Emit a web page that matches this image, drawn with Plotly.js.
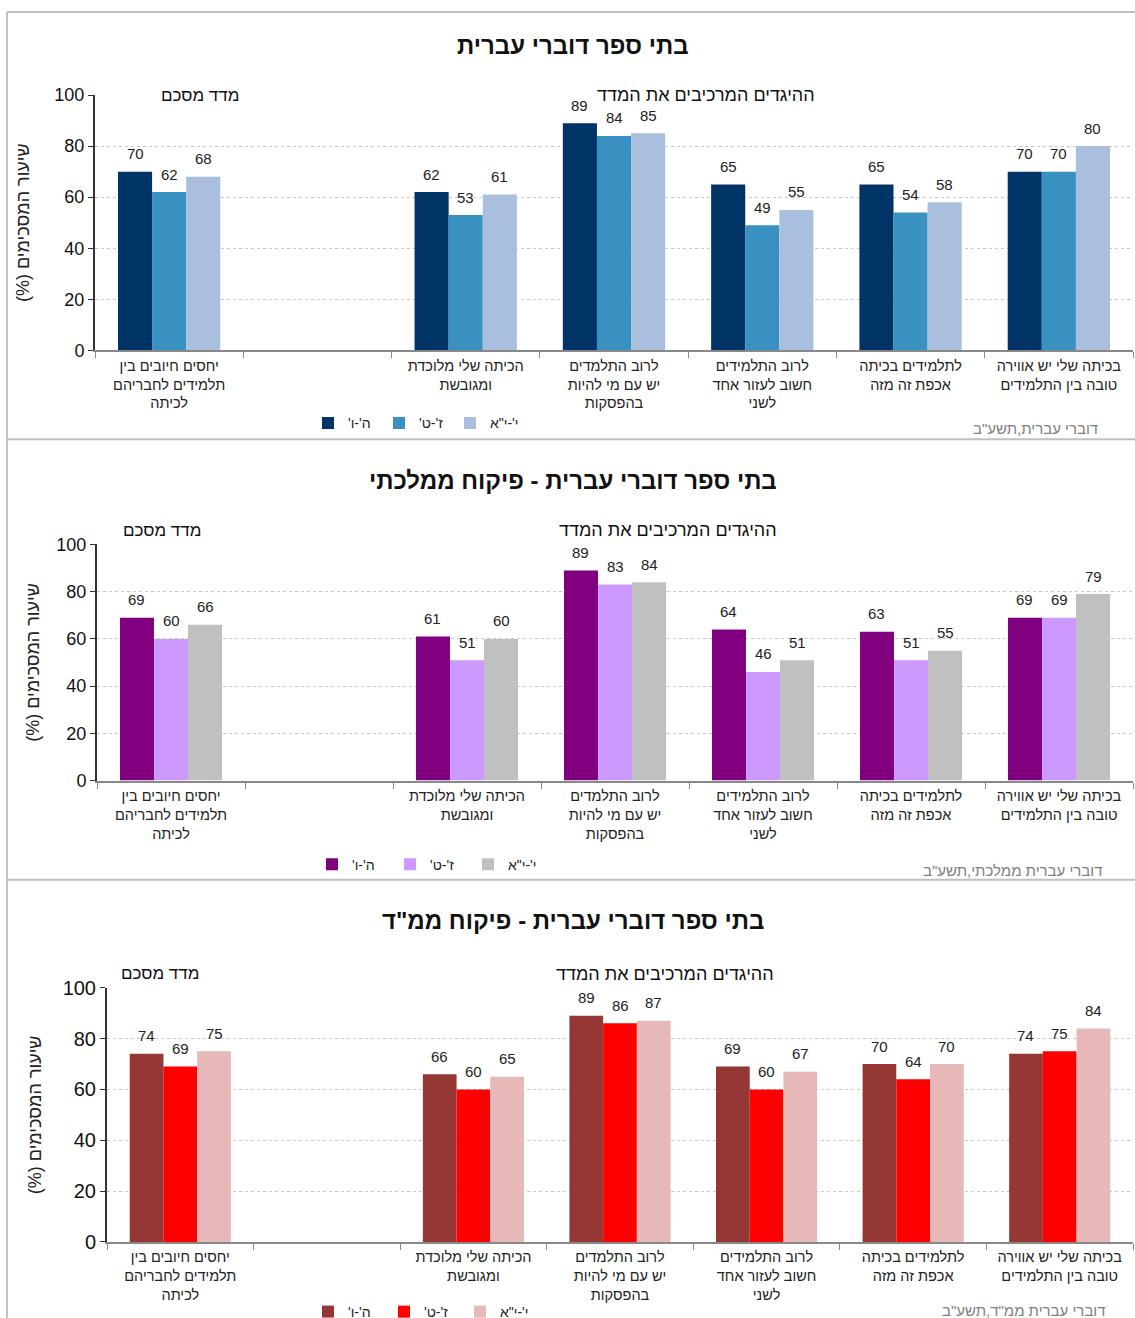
<!DOCTYPE html>
<html>
<head>
<meta charset="utf-8">
<script src="https://cdn.plot.ly/plotly-3.0.1.min.js"></script>
<style>html,body{margin:0;padding:0;background:#fff;overflow:hidden;}#chart{width:1135px;height:1328px;overflow:hidden;}</style>
</head>
<body>
<div id="chart"></div>
<script>
// ---- Data ----
const categories = [
  "יחסים חיובים בין<br>תלמידים לחבריהם<br>לכיתה",
  "הכיתה שלי מלוכדת<br>ומגובשת",
  "לרוב התלמדים<br>יש עם מי להיות<br>בהפסקות",
  "לרוב התלמידים<br>חשוב לעזור אחד<br>לשני",
  "לתלמידים בכיתה<br>אכפת זה מזה",
  "בכיתה שלי יש אווירה<br>טובה בין התלמידים"
];
const gapCategory = " ";
const seriesNames = ["ה'-ו'", "ז'-ט'", "י'-י\"א"];

const panelTitles = [
  "בתי ספר דוברי עברית",
  "בתי ספר דוברי עברית - פיקוח ממלכתי",
  "בתי ספר דוברי עברית - פיקוח ממ\"ד"
];
const sourceNotes = [
  "דוברי עברית,תשע\"ב",
  "דוברי עברית ממלכתי,תשע\"ב",
  "דוברי עברית ממ\"ד,תשע\"ב"
];
const indexLabel = "מדד מסכם";
const itemsLabel = "ההיגדים המרכיבים את המדד";
const yTitle = "שיעור המסכימים (%)";

// Panel 1: all Hebrew-speaking schools
const allG5_6   = [70, 62, 89, 65, 65, 70];
const allG7_9   = [62, 53, 84, 49, 54, 70];
const allG10_11 = [68, 61, 85, 55, 58, 80];
// Panel 2: state supervision
const stateG5_6   = [69, 61, 89, 64, 63, 69];
const stateG7_9   = [60, 51, 83, 46, 51, 69];
const stateG10_11 = [66, 60, 84, 51, 55, 79];
// Panel 3: state-religious supervision
const relG5_6   = [74, 66, 89, 69, 70, 74];
const relG7_9   = [69, 60, 86, 60, 64, 75];
const relG10_11 = [75, 65, 87, 67, 70, 84];

const panelColors = [
  ["#003366", "#3891c1", "#a9bfdd"],
  ["#800080", "#cc99ff", "#c0c0c0"],
  ["#953735", "#ff0000", "#e6b9b8"]
];
const panelData = [
  [allG5_6, allG7_9, allG10_11],
  [stateG5_6, stateG7_9, stateG10_11],
  [relG5_6, relG7_9, relG10_11]
];

// ---- Layout geometry (pixels of the 1135x1318 reference) ----
const W = 1135, H = 1318;
const FIG_H = 1328;
const FONT = "Liberation Sans, Arial, sans-serif";
const RLM = "\u200F";
const BARGAP = 0.31;
const panels = [
  {x0: 95,  top: 95,  bottom: 350,  title: 45,  notes: 95,  idxX: 200, itmX: 706, legX: 308, legY: 423, legW: 26, srcX: 1100, srcY: 428, yTick: 18, standoff: 20},
  {x0: 97,  top: 544, bottom: 780,  title: 480, notes: 530, idxX: 162, itmX: 668, legX: 312, legY: 864, legW: 33, srcX: 1105, srcY: 870, yTick: 18, standoff: 12},
  {x0: 107, top: 987, bottom: 1241, title: 920, notes: 973, idxX: 160, itmX: 665, legX: 308, legY: 1311, legW: 31, srcX: 1108, srcY: 1310, yTick: 20, standoff: 16}
];
const X1 = 1133;
const px = v => v / W;
const py = v => 1 - v / H;

const catOrder = [categories[0], gapCategory].concat(categories.slice(1));

const traces = [];
const layout = {
  width: W, height: FIG_H,
  autosize: false,
  margin: {l: 0, r: 0, t: 0, b: 0, pad: 0},
  paper_bgcolor: "#fff", plot_bgcolor: "#fff",
  font: {family: FONT, color: "#222"},
  barmode: "group",
  bargap: BARGAP,
  bargroupgap: 0,
  annotations: [],
  shapes: []
};

panels.forEach((p, i) => {
  const n = i === 0 ? "" : String(i + 1);
  const legendKey = "legend" + n;
  const catW = (X1 - p.x0) / catOrder.length;
  const barW = catW * (1 - BARGAP) / 3;
  for (let s = 0; s < 3; s++) {
    traces.push({
      type: "bar",
      x: categories,
      y: panelData[i][s],
      name: RLM + seriesNames[s] + RLM,
      xaxis: "x" + n,
      yaxis: "y" + n,
      legend: legendKey,
      marker: {color: panelColors[i][s], line: {width: 0}},
      hoverinfo: "x+y+name"
    });
    // value labels above each bar, positioned through the data axes
    panelData[i][s].forEach((v, k) => {
      layout.annotations.push({
        text: String(v), xref: "x" + n, yref: "y" + n,
        x: categories[k], y: v, xshift: (s - 1) * barW, yshift: 18,
        xanchor: "center", yanchor: "middle", showarrow: false,
        font: {family: FONT, size: 15, color: "#222"}
      });
    });
  }
  layout["xaxis" + n] = {
    domain: [px(p.x0), px(X1)],
    anchor: "y" + n,
    type: "category",
    categoryorder: "array",
    categoryarray: catOrder,
    range: [-0.5, 6.5],
    tickson: "boundaries",
    ticks: "outside",
    ticklen: 6,
    tickcolor: "#888",
    ticklabelstandoff: 1,
    showline: true,
    linecolor: "#888",
    linewidth: 2,
    showgrid: false,
    tickfont: {family: FONT, size: 14.5, color: "#222"},
    automargin: false,
    fixedrange: true
  };
  layout["yaxis" + n] = {
    domain: [py(p.bottom), py(p.top)],
    anchor: "x" + n,
    range: [0, 100],
    tickvals: [0, 20, 40, 60, 80, 100],
    ticks: "outside",
    ticklen: 5,
    tickcolor: "#333",
    showline: true,
    linecolor: "#333",
    linewidth: 2,
    showgrid: true,
    gridcolor: "#c8c8c8",
    griddash: "dot",
    gridwidth: 1,
    zeroline: false,
    tickfont: {family: FONT, size: p.yTick, color: "#111"},
    title: {text: RLM + yTitle + RLM, font: {family: FONT, size: 18, color: "#222"}, standoff: p.standoff},
    automargin: false,
    fixedrange: true
  };
  layout[legendKey] = {
    orientation: "h",
    x: px(p.legX), xanchor: "left",
    y: py(p.legY), yanchor: "middle",
    font: {family: FONT, size: 14, color: "#222"},
    bgcolor: "rgba(0,0,0,0)",
    entrywidth: p.legW, entrywidthmode: "pixels",
    itemwidth: 30,
    traceorder: "normal"
  };
  layout.annotations.push(
    {text: "<b>" + panelTitles[i] + "</b>", xref: "paper", yref: "paper", x: px(573), y: py(p.title),
     xanchor: "center", yanchor: "middle", showarrow: false, font: {family: FONT, size: 24, color: "#111"}},
    {text: indexLabel, xref: "paper", yref: "paper", x: px(p.idxX), y: py(p.notes),
     xanchor: "center", yanchor: "middle", showarrow: false, font: {family: FONT, size: 17, color: "#111"}},
    {text: itemsLabel, xref: "paper", yref: "paper", x: px(p.itmX), y: py(p.notes),
     xanchor: "center", yanchor: "middle", showarrow: false, font: {family: FONT, size: 18, color: "#111"}},
    {text: sourceNotes[i], xref: "paper", yref: "paper", x: px(p.srcX), y: py(p.srcY),
     xanchor: "right", yanchor: "middle", showarrow: false, font: {family: FONT, size: 15, color: "#808080"}}
  );
});

// panel frame lines
const frameColor = "#c0c0c0";
layout.shapes.push(
  {type: "line", xref: "paper", yref: "paper", x0: px(7), x1: px(7), y0: py(12), y1: 0, line: {color: frameColor, width: 2}},
  {type: "line", xref: "paper", yref: "paper", x0: px(7), x1: 1, y0: py(12), y1: py(12), line: {color: frameColor, width: 2}},
  {type: "line", xref: "paper", yref: "paper", x0: px(7), x1: 1, y0: py(439), y1: py(439), line: {color: frameColor, width: 2}},
  {type: "line", xref: "paper", yref: "paper", x0: px(7), x1: 1, y0: py(879), y1: py(879), line: {color: frameColor, width: 2}}
);

Plotly.newPlot("chart", traces, layout, {staticPlot: true, displayModeBar: false});
</script>
</body>
</html>
